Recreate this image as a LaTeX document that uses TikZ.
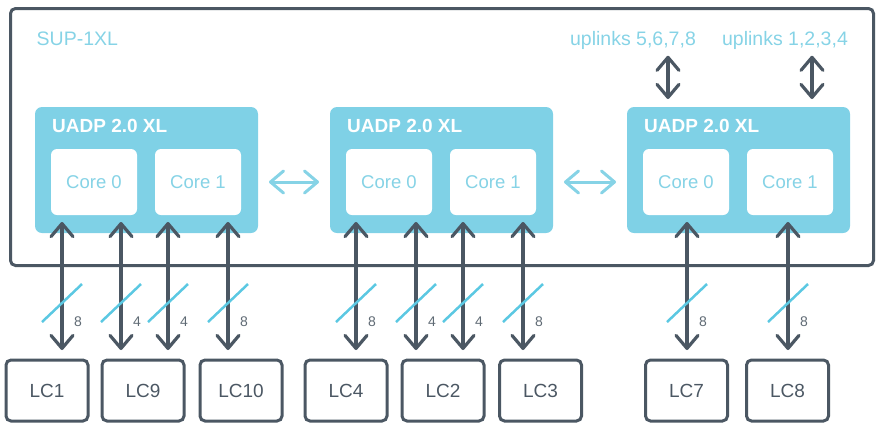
\documentclass[tikz,border=0pt]{standalone}
\usepackage{fontspec}
\setmainfont{Liberation Sans}
\usetikzlibrary{positioning,arrows.meta}

\definecolor{slate}{HTML}{4B5763}
\definecolor{uadpblue}{HTML}{7FD1E6}
\definecolor{softblue}{HTML}{86D3E6}
\definecolor{cutblue}{HTML}{5BC8E2}
\definecolor{countgray}{HTML}{5F6A74}

\begin{document}
\begin{tikzpicture}[x=1pt,y=1pt]
    \useasboundingbox (0,0) rectangle (878,-424);
    \tikzset{sup/.style = {draw=slate, line width=3pt, rounded corners=5pt, minimum width=863pt,
        minimum height=257pt, inner sep=0pt, outer sep=0pt}}
    \tikzset{uadp/.style = {fill=uadpblue, rounded corners=7pt, minimum width=223pt,
        minimum height=126pt, inner sep=0pt, outer sep=0pt}}
    \tikzset{core/.style = {fill=white, rounded corners=6pt, minimum width=86pt, minimum height=66pt,
        outer sep=0pt, text=softblue, font=\fontsize{18.5}{20}\selectfont}}
    \tikzset{chip/.style = {text=white, inner sep=0pt, anchor=base west,
        font=\bfseries\fontsize{19}{21}\selectfont}}
    \tikzset{tag/.style = {text=softblue, inner sep=0pt, font=\fontsize{19.5}{21}\selectfont}}
    \tikzset{lc/.style = {draw=slate, line width=3pt, rounded corners=5pt, minimum width=82pt,
        minimum height=61pt, outer sep=0pt, text=slate, font=\fontsize{19}{21}\selectfont}}
    \tikzset{link/.style = {draw=slate, line width=3.2pt, shorten <=7pt, shorten >=10pt,
        {Straight Barb[length=13pt,width=22pt,round]}-{Straight Barb[length=13pt,width=22pt,round]}}}
    \tikzset{hop/.style = {link, draw=softblue, line width=3pt, shorten <=11pt, shorten >=11pt}}
    \tikzset{trunk/.style = {link, shorten <=6pt, shorten >=8pt}}
    \tikzset{lanecut/.style = {draw=cutblue, line width=2.5pt}}
    \tikzset{lanecount/.style = {text=countgray, inner sep=0pt, font=\fontsize{14}{15}\selectfont}}
    \tikzset{pics/lanes/.style = {code = {
        \draw[lanecut] (-20pt,-19pt) -- (20pt,19pt);
        \node[lanecount] at (16pt,-19pt) {#1};}}}
    % supervisor
    \node[sup] (sup) at (442,-137) {};
    \node[tag, anchor=base west] (suptag) at ([shift={(26pt,-37pt)}]sup.north west) {SUP-1XL};
    % the three asics
    \node[uadp] (uadpA) at (146.5,-170) {};
    \node[uadp, right=72pt of uadpA] (uadpB) {};
    \node[uadp, right=74pt of uadpB] (uadpC) {};
    \node[chip] (chipA) at ([shift={(17pt,-25pt)}]uadpA.north west) {UADP 2.0 XL};
    \node[chip] (chipB) at ([shift={(17pt,-25pt)}]uadpB.north west) {UADP 2.0 XL};
    \node[chip] (chipC) at ([shift={(17pt,-25pt)}]uadpC.north west) {UADP 2.0 XL};
    \node[core, above right=18pt and 16pt of uadpA.south west] (a0) {Core 0};
    \node[core, right=18pt of a0] (a1) {Core 1};
    \node[core, above right=18pt and 16pt of uadpB.south west] (b0) {Core 0};
    \node[core, right=18pt of b0] (b1) {Core 1};
    \node[core, above right=18pt and 16pt of uadpC.south west] (c0) {Core 0};
    \node[core, right=18pt of c0] (c1) {Core 1};
    \draw[hop] (uadpA.east |- a1) -- (uadpB.west |- b0);
    \draw[hop] (uadpB.east |- b1) -- (uadpC.west |- c0);
    % uplinks
    \node[tag, anchor=base] (up2) at (633,-45.5) {uplinks 5,6,7,8};
    \node[tag, anchor=base] (up1) at (785,-45.5) {uplinks 1,2,3,4};
    \coordinate (pu2) at ([xshift=-18pt]c0.north);
    \coordinate (pu1) at ([xshift=22pt]c1.north);
    \draw[trunk] (pu2 |- up2.south) -- (pu2 |- uadpC.north);
    \draw[trunk] (pu1 |- up1.south) -- (pu1 |- uadpC.north);
    % line cards
    \node[lc] (lc1) at (47,-390.5) {LC1};
    \node[lc, right=14pt of lc1] (lc9) {LC9};
    \node[lc, right=16pt of lc9] (lc10) {LC10};
    \node[lc, right=23pt of lc10] (lc4) {LC4};
    \node[lc, right=15pt of lc4] (lc2) {LC2};
    \node[lc, right=15.5pt of lc2] (lc3) {LC3};
    \node[lc, right=64pt of lc3] (lc7) {LC7};
    \node[lc, right=19pt of lc7] (lc8) {LC8};
    % core to line card links
    \coordinate (pa1) at ([xshift=-32pt]a0.south);
    \coordinate (pa2) at ([xshift=27pt]a0.south);
    \coordinate (pa3) at ([xshift=-30pt]a1.south);
    \coordinate (pa4) at ([xshift=30pt]a1.south);
    \coordinate (pb1) at ([xshift=-33pt]b0.south);
    \coordinate (pb2) at ([xshift=27pt]b0.south);
    \coordinate (pb3) at ([xshift=-30pt]b1.south);
    \coordinate (pb4) at ([xshift=30pt]b1.south);
    \coordinate (pc1) at ([xshift=1pt]c0.south);
    \coordinate (pc2) at ([xshift=-2pt]c1.south);
    \draw[link] (pa1) -- (pa1 |- lc1.north) coordinate[pos=.607] (ka1);
    \draw[link] (pa2) -- (pa2 |- lc9.north) coordinate[pos=.607] (ka2);
    \draw[link] (pa3) -- (pa3 |- lc9.north) coordinate[pos=.607] (ka3);
    \draw[link] (pa4) -- (pa4 |- lc10.north) coordinate[pos=.607] (ka4);
    \draw[link] (pb1) -- (pb1 |- lc4.north) coordinate[pos=.607] (kb1);
    \draw[link] (pb2) -- (pb2 |- lc2.north) coordinate[pos=.607] (kb2);
    \draw[link] (pb3) -- (pb3 |- lc2.north) coordinate[pos=.607] (kb3);
    \draw[link] (pb4) -- (pb4 |- lc3.north) coordinate[pos=.607] (kb4);
    \draw[link] (pc1) -- (pc1 |- lc7.north) coordinate[pos=.607] (kc1);
    \draw[link] (pc2) -- (pc2 |- lc8.north) coordinate[pos=.607] (kc2);
    \pic at (ka1) {lanes=8};
    \pic at (ka2) {lanes=4};
    \pic at (ka3) {lanes=4};
    \pic at (ka4) {lanes=8};
    \pic at (kb1) {lanes=8};
    \pic at (kb2) {lanes=4};
    \pic at (kb3) {lanes=4};
    \pic at (kb4) {lanes=8};
    \pic at (kc1) {lanes=8};
    \pic at (kc2) {lanes=8};
\end{tikzpicture}
\end{document}
